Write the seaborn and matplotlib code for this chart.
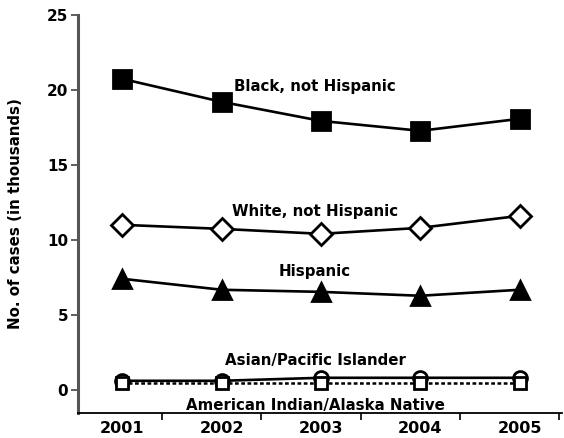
import matplotlib
matplotlib.use("Agg")
import matplotlib.pyplot as plt
import seaborn as sns

years = [2001, 2002, 2003, 2004, 2005]
black = [20.73, 19.2, 17.93, 17.27, 18.07]
white = [11.0, 10.73, 10.4, 10.8, 11.6]
hispanic = [7.4, 6.67, 6.53, 6.27, 6.67]
asian = [0.6, 0.6, 0.8, 0.8, 0.8]
amind = [0.47, 0.47, 0.47, 0.47, 0.47]
yticks = [0, 5, 10, 15, 20, 25]

sns.set_theme(style="white")
plt.rcParams['font.family'] = ['DejaVu Sans']
plt.rcParams['text.color'] = 'black'
plt.rcParams['axes.labelcolor'] = 'black'
plt.rcParams['xtick.color'] = 'black'
plt.rcParams['ytick.color'] = 'black'

fig = plt.figure(figsize=(5.64, 4.38), dpi=100)
ax = fig.add_axes([0.139, 0.057, 0.858, 0.909])

def draw(vals, marker, ms, mfc, ls="-", lw=1.9, z=3):
    sns.lineplot(x=years, y=vals, ax=ax, color="black", marker=marker,
                 markersize=ms, markerfacecolor=mfc, markeredgecolor="black",
                 markeredgewidth=2.0, linestyle=ls, linewidth=lw, zorder=z)

draw(black, "s", 13, "black")
draw(white, "D", 11, "white")
draw(hispanic, "^", 12.5, "black")
draw(asian, "o", 10, "white", z=3)
draw(amind, "s", 8, "white", ls=(0, (1.5, 1)), lw=1.8, z=4)

lab_kw = dict(ha="center", va="center", fontsize=10.8, fontweight="bold", color="black")
ax.text(2002.94, 20.2, "Black, not Hispanic", **lab_kw)
ax.text(2002.94, 11.87, "White, not Hispanic", **lab_kw)
ax.text(2002.94, 7.87, "Hispanic", **lab_kw)
ax.text(2002.94, 1.95, "Asian/Pacific Islander", **lab_kw)
ax.text(2002.94, -1.05, "American Indian/Alaska Native", **lab_kw)

ax.set_xlim(2000.556, 2005.43)
ax.set_ylim(-1.55, 25)
ax.set_yticks(yticks)
ax.set_yticklabels([str(v) for v in yticks], fontweight="bold", fontsize=11)
ax.set_xticks(years)
ax.set_xticklabels([str(y) for y in years], fontweight="bold", fontsize=11.5)
ax.set_xticks([y + 0.4 for y in years], minor=True)
ax.tick_params(axis="x", which="major", length=0, pad=6)
ax.tick_params(axis="x", which="minor", length=5, width=1.2, color="black", direction="out", bottom=True)
ax.tick_params(axis="y", length=5, width=1.2, color="#444444", direction="out", left=True, pad=2.5)
ax.set_ylabel("No. of cases (in thousands)", fontweight="bold", fontsize=10.8, labelpad=17)
ax.set_xlabel("")

for s in ["top", "right"]:
    ax.spines[s].set_visible(False)
ax.spines["left"].set_color("#555555")
ax.spines["left"].set_linewidth(2.2)
ax.spines["bottom"].set_color("black")
ax.spines["bottom"].set_linewidth(1.3)
ax.grid(False)

fig.savefig("out.png", dpi=100)
